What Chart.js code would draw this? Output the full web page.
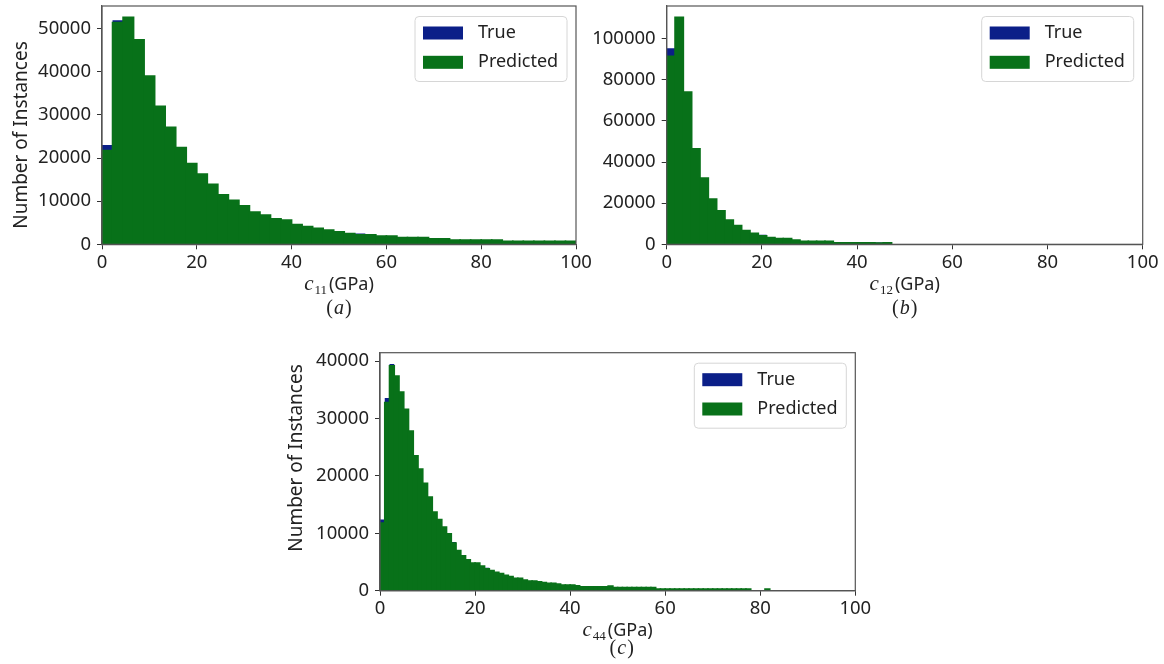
<!DOCTYPE html>
<html>
<head>
<meta charset="utf-8">
<title>Elastic constant histograms</title>
<script src="https://cdn.jsdelivr.net/npm/chart.js@4.4.1/dist/chart.umd.min.js"></script>
<style>
  body { margin: 0; background: #fff; }
  #page { position: relative; width: 1164px; height: 664px; overflow: hidden; }
  canvas { position: absolute; }
</style>
</head>
<body>
<div id="page">
  <canvas id="histC11" width="600" height="330" style="left:0;top:0"></canvas>
  <canvas id="histC12" width="584" height="330" style="left:580px;top:0"></canvas>
  <canvas id="histC44" width="610" height="328" style="left:270px;top:336px"></canvas>
</div>
<script>
// bin widths in GPa
var c11Bin = 100 / 45;
var c12Bin = 1.75;
var c44Bin = 1;

// counts per bin, starting at 0 GPa
var c11True = [23000, 51900, 52600, 47400, 39000, 32000, 27100, 22400, 18700, 16300,
               13900, 11500, 10200, 8900, 7500, 6800, 5900, 5600, 4600, 4100,
               3700, 3300, 2900, 2500, 2500, 2200, 1900, 1900, 1550, 1550,
               1550, 1250, 1250, 1000, 1000, 1000, 1000, 1000, 700, 700,
               700, 700, 700, 700, 700];
var c11Pred = [21700, 51400, 52600, 47400, 39000, 32000, 27100, 22400, 18700, 16300,
               13900, 11500, 10200, 8900, 7500, 6800, 5900, 5600, 4600, 4100,
               3700, 3300, 2900, 2500, 2200, 2200, 1900, 1900, 1550, 1550,
               1550, 1250, 1250, 1000, 1000, 1000, 1000, 1000, 700, 700,
               700, 700, 700, 700, 700];

var c12True = [95400, 110400, 74100, 46500, 32200, 22000, 16300, 11800, 9100, 6700,
               5400, 4600, 3300, 2800, 2800, 2100, 1450, 1450, 1450, 1450,
               750, 750, 750, 750, 750, 900, 700];
var c12Pred = [91500, 110400, 74100, 46500, 32200, 22000, 16300, 11800, 9100, 6700,
               5400, 4100, 3300, 2800, 2800, 2100, 1450, 1450, 1450, 1450,
               750, 750, 750, 750, 750, 600, 700];

var c44True = [12400, 33600, 39500, 37400, 34600, 31600, 27800, 23500, 21200, 18700,
               16300, 13700, 12400, 11100, 9900, 8500, 7000, 6100, 5400, 4800,
               4800, 4300, 4000, 3500, 3200, 3000, 2700, 2450, 2150, 2150,
               1850, 1700, 1700, 1550, 1400, 1300, 1300, 1150, 1000, 1000,
               1000, 870, 700, 700, 700, 700, 700, 700, 820, 530,
               530, 530, 530, 530, 530, 530, 530, 530, 300, 300,
               300, 300, 300, 300, 300, 300, 300, 300, 300, 300,
               300, 300, 300, 300, 300, 300, 300, 300, 0, 0,
               0, 300];
var c44Pred = [11800, 32800, 39200, 37400, 34600, 31600, 27800, 23500, 21200, 18700,
               16300, 13700, 12400, 11100, 9900, 8300, 7000, 6100, 5400, 4800,
               4800, 4300, 3800, 3500, 3200, 3000, 2700, 2450, 2150, 2150,
               1850, 1700, 1700, 1550, 1400, 1300, 1300, 1150, 1000, 1000,
               1000, 870, 700, 700, 700, 700, 700, 700, 820, 530,
               530, 530, 530, 530, 530, 530, 530, 530, 300, 300,
               300, 300, 300, 300, 300, 300, 300, 300, 300, 300,
               300, 300, 300, 300, 300, 300, 300, 300, 0, 0,
               0, 300];

var xTicks = [0, 20, 40, 60, 80, 100];
var c11YTicks = [0, 10000, 20000, 30000, 40000, 50000];
var c12YTicks = [0, 20000, 40000, 60000, 80000, 100000];
var c44YTicks = [0, 10000, 20000, 30000, 40000];

var NAVY = '#0b1f88';
var GREEN = '#087119';
var INK = '#222';
var SPINE = '#555';
var FONT = '"Noto Sans", "DejaVu Sans", sans-serif';
var SERIF = '"Liberation Serif", "DejaVu Serif", serif';

function toPoints(vals, width) {
  var pts = [];
  vals.forEach(function (v, i) {
    if (v > 0) pts.push({ x: (i + 0.5) * width, y: v });
  });
  return pts;
}

function fixedTicks(list) {
  return function (s) { s.ticks = list.map(function (v) { return { value: v }; }); };
}

// frame, legend, axis labels and the panel letter
function decor(lay) {
  return {
    id: 'decor',
    afterDraw: function (chart) {
      var ctx = chart.ctx, a = chart.chartArea;
      ctx.save();

      ctx.strokeStyle = SPINE;
      ctx.lineWidth = 1.2;
      ctx.strokeRect(a.left, a.top, a.right - a.left, a.bottom - a.top);

      // legend box in the upper right corner
      var bw = 152, bh = 65;
      var bx = a.right - 9 - bw, by = a.top + 10.5;
      ctx.beginPath();
      ctx.roundRect(bx, by, bw, bh, 4);
      ctx.fillStyle = 'rgba(255,255,255,0.85)';
      ctx.fill();
      ctx.strokeStyle = '#d6d6d6';
      ctx.lineWidth = 1;
      ctx.stroke();
      var items = chart.data.datasets.slice().reverse();
      ctx.font = '18px ' + FONT;
      ctx.textBaseline = 'middle';
      ctx.textAlign = 'left';
      items.forEach(function (ds, i) {
        var sy = by + 10 + i * 29.3;
        ctx.fillStyle = ds.backgroundColor;
        ctx.fillRect(bx + 8, sy, 40, 13);
        ctx.fillStyle = INK;
        ctx.fillText(ds.label, bx + 63, sy + 6.5);
      });

      // x label: c_ij (GPa)
      var cx = (a.left + a.right) / 2;
      var base = a.bottom + 45.5;
      ctx.textBaseline = 'alphabetic';
      ctx.font = 'italic 21px ' + SERIF;
      var wc = ctx.measureText('c').width;
      ctx.font = '13px ' + SERIF;
      var ws = ctx.measureText(lay.sub).width;
      ctx.font = '18px ' + FONT;
      var wu = ctx.measureText('(GPa)').width;
      var x = cx - (wc + 1 + ws + 2 + wu) / 2;
      ctx.fillStyle = INK;
      ctx.font = 'italic 21px ' + SERIF;
      ctx.fillText('c', x, base);
      x += wc + 1;
      ctx.font = '13px ' + SERIF;
      ctx.fillText(lay.sub, x, base + 4);
      x += ws + 2;
      ctx.font = '18px ' + FONT;
      ctx.fillText('(GPa)', x, base);

      // panel letter
      var cb = a.bottom + lay.capGap;
      ctx.font = '20px ' + SERIF;
      var wp = ctx.measureText('(').width;
      ctx.font = 'italic 20px ' + SERIF;
      var wl = ctx.measureText(lay.letter).width;
      x = (lay.capX || cx) - (2 * wp + wl + 2) / 2;
      ctx.font = '20px ' + SERIF;
      ctx.fillText('(', x, cb);
      ctx.font = 'italic 20px ' + SERIF;
      ctx.fillText(lay.letter, x + wp + 1, cb);
      ctx.font = '20px ' + SERIF;
      ctx.fillText(')', x + wp + wl + 2, cb);

      // y label
      if (lay.yTitle) {
        ctx.translate(lay.yTitleX, lay.yTitleY);
        ctx.rotate(-Math.PI / 2);
        ctx.font = '19px ' + FONT;
        ctx.textAlign = 'center';
        ctx.textBaseline = 'middle';
        ctx.fillText(lay.yTitle, 0, 0);
      }
      ctx.restore();
    }
  };
}

function makeHist(id, width, trueVals, predVals, yTicks, lay) {
  var yMax = Math.max.apply(null, trueVals.concat(predVals)) * 1.05;
  return new Chart(document.getElementById(id), {
    type: 'bar',
    data: {
      datasets: [
        { label: 'Predicted', data: toPoints(predVals, width), backgroundColor: GREEN,
          grouped: false, barPercentage: 1, categoryPercentage: 1, borderWidth: 0, inflateAmount: 0.8 },
        { label: 'True', data: toPoints(trueVals, width), backgroundColor: NAVY,
          grouped: false, barPercentage: 1, categoryPercentage: 1, borderWidth: 0, inflateAmount: 0 }
      ]
    },
    options: {
      responsive: false,
      animation: false,
      events: [],
      layout: { padding: { left: 0, top: lay.top, right: lay.right, bottom: 0 } },
      plugins: { legend: { display: false }, tooltip: { enabled: false } },
      scales: {
        x: {
          type: 'linear', min: 0, max: 100, offset: false,
          afterBuildTicks: fixedTicks(xTicks),
          afterFit: function (s) { s.height = lay.xh; s.paddingLeft = 0; s.paddingRight = 0; },
          grid: { offset: false, drawOnChartArea: false, drawTicks: true, tickLength: 5, tickColor: '#333' },
          border: { color: SPINE, width: 1.2 },
          ticks: { color: INK, padding: 2, maxRotation: 0, font: { family: FONT, size: 18.5 } }
        },
        y: {
          min: 0, max: yMax,
          afterBuildTicks: fixedTicks(yTicks),
          afterFit: function (s) { s.width = lay.yw; s.paddingTop = 0; s.paddingBottom = 0; },
          grid: { drawOnChartArea: false, drawTicks: true, tickLength: 5, tickColor: '#333' },
          border: { color: SPINE, width: 1.2 },
          ticks: { color: INK, padding: 6, font: { family: FONT, size: 18.5 },
                   callback: function (v) { return String(v); } }
        }
      }
    },
    plugins: [decor(lay)]
  });
}

makeHist('histC11', c11Bin, c11True, c11Pred, c11YTicks,
  { top: 6, right: 24, yw: 102, xh: 85.7, sub: '11', letter: 'a', capGap: 70,
    yTitle: 'Number of Instances', yTitleX: 21.7, yTitleY: 135 });
makeHist('histC12', c12Bin, c12True, c12Pred, c12YTicks,
  { top: 6, right: 21.3, yw: 86.7, xh: 85.7, sub: '12', letter: 'b', capGap: 70 });
makeHist('histC44', c44Bin, c44True, c44Pred, c44YTicks,
  { top: 16.7, right: 24.7, yw: 110, xh: 73.3, sub: '44', letter: 'c', capGap: 63, capX: 351.7,
    yTitle: 'Number of Instances', yTitleX: 26.7, yTitleY: 122 });
</script>
</body>
</html>
